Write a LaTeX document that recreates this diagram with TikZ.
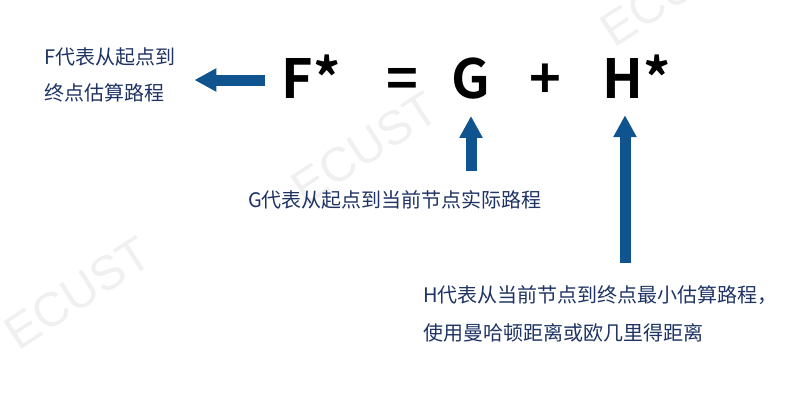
\documentclass[tikz,border=0pt]{standalone}
\usepackage{fontspec}
\setmainfont{Noto Sans CJK SC}
\newfontfamily\eqfont{Noto Sans CJK SC Bold}
\newfontfamily\markfont{Liberation Sans}
\usetikzlibrary{arrows.meta}
\definecolor{navy}{RGB}{31,52,100}
\definecolor{arrowblue}{RGB}{16,84,143}

\begin{document}
\begin{tikzpicture}[x=1pt, y=-1pt,
  blockarrow/.style={draw=arrowblue, line width=11pt,
    -{Triangle[length=22pt, width=22pt]}},
  note/.style={text=navy, font=\fontsize{20}{36}\selectfont, align=left, inner sep=0pt},
  sym/.style={font=\eqfont\fontsize{54}{60}\selectfont, anchor=base, inner sep=0pt},
  wmark/.style={text=black!6, font=\markfont\fontsize{48}{48}\selectfont, rotate=33}]

  \useasboundingbox (0,0) rectangle (788,408);
  \clip (0,0) rectangle (788,408);

  % watermarks
  \node[wmark] (wm1) at (78,293)  {ECUST};
  \node[wmark] (wm2) at (365,148) {ECUST};
  \node[wmark] (wm3) at (674,-10) {ECUST};

  % formula
  \node[sym] (Fs)   at (311,98) {F*};
  \node[sym] (eq)   at (402,98) {=};
  \node[sym] (G)    at (471,98) {G};
  \node[sym] (plus) at (545,98) {+};
  \node[sym] (Hs)   at (637,98) {H*};

  % descriptions
  \node[note, anchor=west] (Fdesc) at (44,75) {F代表从起点到\\终点估算路程};
  \node[note, anchor=west] (Gdesc) at (248,200) {G代表从起点到当前节点实际路程};
  \node[note, anchor=west] (Hdesc) at (423,314)
    {H代表从当前节点到终点最小估算路程，\\[2pt]使用曼哈顿距离或欧几里得距离};

  % arrows
  \coordinate (Ftail) at (265,80);
  \draw[blockarrow, shorten >=19pt] (Ftail) -- (Fdesc.east |- Ftail);
  \coordinate (Gtail) at (471,171);
  \draw[blockarrow, shorten >=17pt] (Gtail) -- (G.south);
  \coordinate (Htail) at (625,263);
  \draw[blockarrow, shorten >=17pt] (Htail) -- (Htail |- Hs.south);
\end{tikzpicture}
\end{document}
